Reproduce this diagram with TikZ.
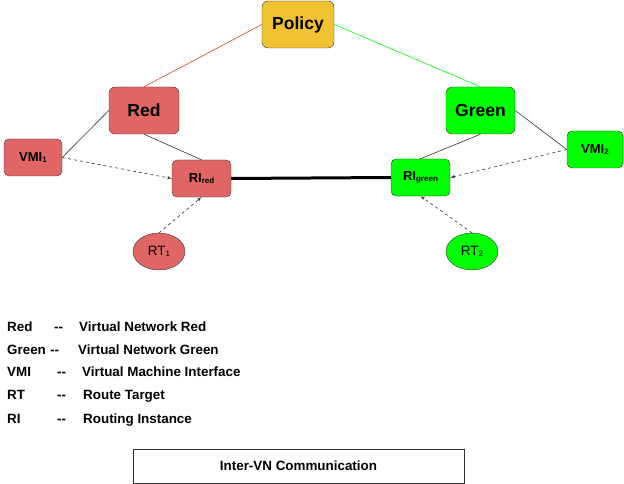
\documentclass[tikz,border=0pt]{standalone}
\usepackage{fontspec}
\setmainfont{Liberation Sans}
\usetikzlibrary{shapes,arrows,calc}
\definecolor{vnred}{HTML}{E06666}
\definecolor{vngreen}{HTML}{00FF00}
\definecolor{policyfill}{HTML}{F1C232}
\definecolor{redline}{HTML}{CC4125}
\newcommand{\smallsub}[1]{\raisebox{-1pt}{\fontsize{8}{8}\selectfont #1}}
\newcommand{\dd}{{-}{-}}
\tikzstyle{vnbox} = [draw=black!80, rectangle, rounded corners=6pt, text centered, font=\bfseries\fontsize{17.5}{17.5}\selectfont]
\tikzstyle{smallbox} = [draw=black!80, rectangle, rounded corners=5pt, text centered, minimum height=37pt, font=\bfseries\fontsize{13}{13}\selectfont]
\tikzstyle{target} = [draw=black!80, ellipse, minimum width=52pt, minimum height=37pt, inner sep=0pt, font=\fontsize{13.5}{13.5}\selectfont]
\tikzstyle{link} = [draw, black!80, line width=0.6pt]
\tikzstyle{import} = [draw, black!80, dashed, line width=0.6pt, -latex']
\tikzstyle{legend} = [anchor=west, inner sep=0pt, text height=9.5pt, text depth=3pt, font=\bfseries\fontsize{13.4}{13.4}\selectfont]

\begin{document}
\begin{tikzpicture}[x=1pt, y=-1pt]
        \useasboundingbox (0,0) rectangle (624,484);
        \node[vnbox, fill=policyfill, minimum width=72pt, minimum height=47pt] (policy) at (298,24.5) {Policy};
        \node[vnbox, fill=vnred, minimum width=70pt, minimum height=47pt] (red) at (144,110.5) {Red};
        \node[vnbox, fill=vngreen, minimum width=69pt, minimum height=47pt] (green) at (480.5,110.5) {Green};
        \node[smallbox, fill=vnred, minimum width=58pt] (vmi1) at (33,157.5) {VMI\smallsub{1}};
        \node[smallbox, fill=vngreen, minimum width=56pt] (vmi2) at (595,149.5) {VMI\smallsub{2}};
        \node[smallbox, fill=vnred, minimum width=59pt] (rired) at (201.5,178.5) {RI\smallsub{red}};
        \node[smallbox, fill=vngreen, minimum width=59pt] (rigreen) at (420.5,177.5) {RI\smallsub{green}};
        \node[target, fill=vnred] (rt1) at (159,251.5) {RT\smallsub{1}};
        \node[target, fill=vngreen] (rt2) at (472,251.5) {RT\smallsub{2}};
        \path[link, redline] (policy.west) -- (red.north);
        \path[link, vngreen] (policy.east) -- (green.north);
        \path[link] (red.west) -- (vmi1.east);
        \path[link] (red.south) -- (rired.north);
        \path[link] (green.east) -- (vmi2.west);
        \path[link] (green.south) -- (rigreen.north);
        \path[link, black, line width=3pt] (rired.east) -- (rigreen.west);
        \path[import] (vmi1.east) -- (rired.west);
        \path[import] (rt1.north) -- (rired.south);
        \path[import] (vmi2.west) -- (rigreen.east);
        \path[import] (rt2.north) -- (rigreen.south);
        % legend
        \node[legend] (lred) at (7,328) {Red};
        \node[legend] (lreddash) at (54,328) {\dd};
        \node[legend] (lreddesc) at (79,328) {Virtual Network Red};
        \node[legend] (lgreen) at (7,351) {Green};
        \node[legend] (lgreendash) at (50,351) {\dd};
        \node[legend] (lgreendesc) at (78,351) {Virtual Network Green};
        \node[legend] (lvmi) at (7,373) {VMI};
        \node[legend] (lvmidash) at (57,373) {\dd};
        \node[legend] (lvmidesc) at (82,373) {Virtual Machine Interface};
        \node[legend] (lrt) at (7,396) {RT};
        \node[legend] (lrtdash) at (57,396) {\dd};
        \node[legend] (lrtdesc) at (83,396) {Route Target};
        \node[legend] (lri) at (7,420) {RI};
        \node[legend] (lridash) at (57,420) {\dd};
        \node[legend] (lridesc) at (83,420) {Routing Instance};
        \node[draw=black!80, line width=0.6pt, minimum width=331pt, minimum height=34pt, font=\bfseries\fontsize{13.4}{13.4}\selectfont] (title) at (298.5,466) {Inter-VN Communication};
    \end{tikzpicture}
\end{document}
